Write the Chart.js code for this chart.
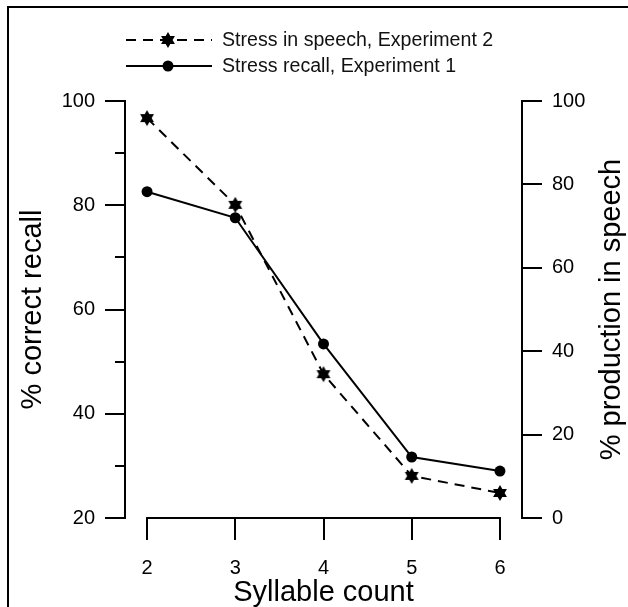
<!DOCTYPE html>
<html>
<head>
<meta charset="utf-8">
<script src="https://cdn.jsdelivr.net/npm/chart.js@4.4.1/dist/chart.umd.min.js"></script>
<style>
  html, body { margin: 0; padding: 0; background: #fff; }
  #wrap { position: relative; width: 628px; height: 607px; overflow: hidden; }
  #frame { position: absolute; left: 7px; top: 6px; width: 700px; height: 700px;
           border-top: 2px solid #000; border-left: 2px solid #000; }
  #c { position: absolute; left: 0; top: 0; }
</style>
</head>
<body>
<div id="wrap">
  <div id="frame"></div>
  <canvas id="c" width="628" height="607"></canvas>
</div>
<script>
// ---- data ----
const syllables = [2, 3, 4, 5, 6];
const recallExp1 = [82.6, 77.6, 53.4, 31.7, 29.0];      // left axis, % correct recall
const speechExp2 = [95.9, 75.1, 34.5, 10.1, 6.0];       // right axis, % production in speech
const leftTickValues = [20, 30, 40, 50, 60, 70, 80, 90, 100];
const leftLabelled = [20, 40, 60, 80, 100];
const rightTickValues = [0, 20, 40, 60, 80, 100];
const seriesNames = ['Stress in speech, Experiment 2', 'Stress recall, Experiment 1'];
const xTitle = 'Syllable count';
const leftTitle = '% correct recall';
const rightTitle = '% production in speech';

const FONT = '"Liberation Sans", Arial, Helvetica, sans-serif';

// filled six-pointed star marker
function makeStar(R) {
  const size = Math.ceil(R * 2 + 2);
  const cv = document.createElement('canvas');
  cv.width = size; cv.height = size;
  const g = cv.getContext('2d');
  const cx = size / 2, cy = size / 2, r = R / Math.sqrt(3);
  g.beginPath();
  for (let i = 0; i < 12; i++) {
    const a = -Math.PI / 2 + i * Math.PI / 6;
    const rr = i % 2 === 0 ? R : r;
    const px = cx + rr * Math.cos(a), py = cy + rr * Math.sin(a);
    if (i === 0) g.moveTo(px, py); else g.lineTo(px, py);
  }
  g.closePath();
  g.fillStyle = '#000';
  g.fill();
  return cv;
}
const starImg = makeStar(8);

const legendPlugin = {
  id: 'customLegend',
  afterDraw(chart) {
    const ctx = chart.ctx;
    const rows = [
      { ds: chart.data.datasets[0], y: 40 },
      { ds: chart.data.datasets[1], y: 66 }
    ];
    rows.forEach(row => {
      const ds = row.ds;
      ctx.save();
      ctx.strokeStyle = ds.borderColor;
      ctx.lineWidth = ds.borderWidth;
      ctx.setLineDash(ds.borderDash || []);
      ctx.beginPath();
      ctx.moveTo(126, row.y);
      ctx.lineTo(212, row.y);
      ctx.stroke();
      ctx.setLineDash([]);
      if (ds.pointStyle === 'circle') {
        ctx.fillStyle = '#000';
        ctx.beginPath();
        ctx.arc(168, row.y, ds.pointRadius, 0, Math.PI * 2);
        ctx.fill();
      } else {
        ctx.drawImage(ds.pointStyle, 168 - ds.pointStyle.width / 2, row.y - ds.pointStyle.height / 2);
      }
      ctx.fillStyle = '#111';
      ctx.font = '19.6px ' + FONT;
      ctx.textBaseline = 'middle';
      ctx.textAlign = 'left';
      ctx.fillText(ds.label, 222, row.y + 1);
      ctx.restore();
    });
  }
};

const xLinePlugin = {
  id: 'xAxisLine',
  afterDraw(chart) {
    const xs = chart.scales.x;
    const ctx = chart.ctx;
    const y = xs.top;
    ctx.save();
    ctx.strokeStyle = '#000';
    ctx.lineWidth = 2;
    ctx.beginPath();
    ctx.moveTo(xs.getPixelForValue(syllables[0]) - 1, y);
    ctx.lineTo(xs.getPixelForValue(syllables[syllables.length - 1]) + 1, y);
    ctx.stroke();
    ctx.restore();
  }
};

// right-axis title reading bottom-to-top, like the left one
const rightTitlePlugin = {
  id: 'rightTitle',
  afterDraw(chart) {
    const ys = chart.scales.yR;
    const ctx = chart.ctx;
    ctx.save();
    ctx.translate(ys.right - 16, (ys.top + ys.bottom) / 2);
    ctx.rotate(-Math.PI / 2);
    ctx.fillStyle = '#000';
    ctx.font = '29px ' + FONT;
    ctx.textAlign = 'center';
    ctx.textBaseline = 'middle';
    ctx.fillText(rightTitle, 0, 0);
    ctx.restore();
  }
};

new Chart(document.getElementById('c'), {
  type: 'line',
  data: {
    datasets: [
      {
        label: seriesNames[0],
        data: syllables.map((x, i) => ({ x: x, y: speechExp2[i] })),
        yAxisID: 'yR',
        borderColor: '#000',
        backgroundColor: '#000',
        borderWidth: 2,
        borderDash: [10, 7],
        pointStyle: starImg,
        pointRadius: 8,
        tension: 0,
        fill: false
      },
      {
        label: seriesNames[1],
        data: syllables.map((x, i) => ({ x: x, y: recallExp1[i] })),
        yAxisID: 'yL',
        borderColor: '#000',
        backgroundColor: '#000',
        borderWidth: 2,
        pointStyle: 'circle',
        pointRadius: 5.5,
        pointBorderWidth: 0,
        tension: 0,
        fill: false
      }
    ]
  },
  options: {
    responsive: false,
    animation: false,
    events: [],
    layout: { padding: { top: 101, left: 0, right: 0, bottom: 0 } },
    plugins: { legend: { display: false }, tooltip: { enabled: false } },
    scales: {
      x: {
        type: 'linear',
        min: 1.75,
        max: 6.25,
        afterBuildTicks: s => { s.ticks = syllables.map(v => ({ value: v })); },
        afterFit: s => { s.height = 89; },
        border: { display: false },
        grid: { drawOnChartArea: false, drawTicks: true, tickLength: 22, color: '#000', lineWidth: 2 },
        ticks: { color: '#000', font: { family: FONT, size: 20, lineHeight: 1 }, padding: 18, maxRotation: 0,
                 callback: v => String(v) },
        title: { display: true, text: xTitle, color: '#000', font: { family: FONT, size: 29, lineHeight: 1 },
                 padding: { top: 0, bottom: 0 } }
      },
      yL: {
        position: 'left',
        min: 20,
        max: 100,
        afterBuildTicks: s => { s.ticks = leftTickValues.map(v => ({ value: v })); },
        afterFit: s => { s.width = 125; },
        border: { display: true, color: '#000', width: 2 },
        grid: {
          drawOnChartArea: false, drawTicks: true, tickLength: 20, color: '#000', lineWidth: 2,
          tickBorderDash: ctx => (leftLabelled.includes(ctx.tick.value) ? [] : [10, 10]),
          tickBorderDashOffset: ctx => (leftLabelled.includes(ctx.tick.value) ? 0 : 10)
        },
        ticks: { color: '#000', font: { family: FONT, size: 20, lineHeight: 1 }, padding: 10,
                 callback: v => (leftLabelled.includes(v) ? String(v) : '') },
        title: { display: true, text: leftTitle, color: '#000', font: { family: FONT, size: 29, lineHeight: 1 },
                 padding: { top: 18, bottom: 0 } }
      },
      yR: {
        position: 'right',
        min: 0,
        max: 100,
        afterBuildTicks: s => { s.ticks = rightTickValues.map(v => ({ value: v })); },
        afterFit: s => { s.width = 106; },
        border: { display: true, color: '#000', width: 2 },
        grid: { drawOnChartArea: false, drawTicks: true, tickLength: 20, color: '#000', lineWidth: 2 },
        ticks: { color: '#000', font: { family: FONT, size: 20, lineHeight: 1 }, padding: 10,
                 callback: v => String(v) },
        title: { display: false, text: rightTitle }
      }
    }
  },
  plugins: [legendPlugin, xLinePlugin, rightTitlePlugin]
});
</script>
</body>
</html>
